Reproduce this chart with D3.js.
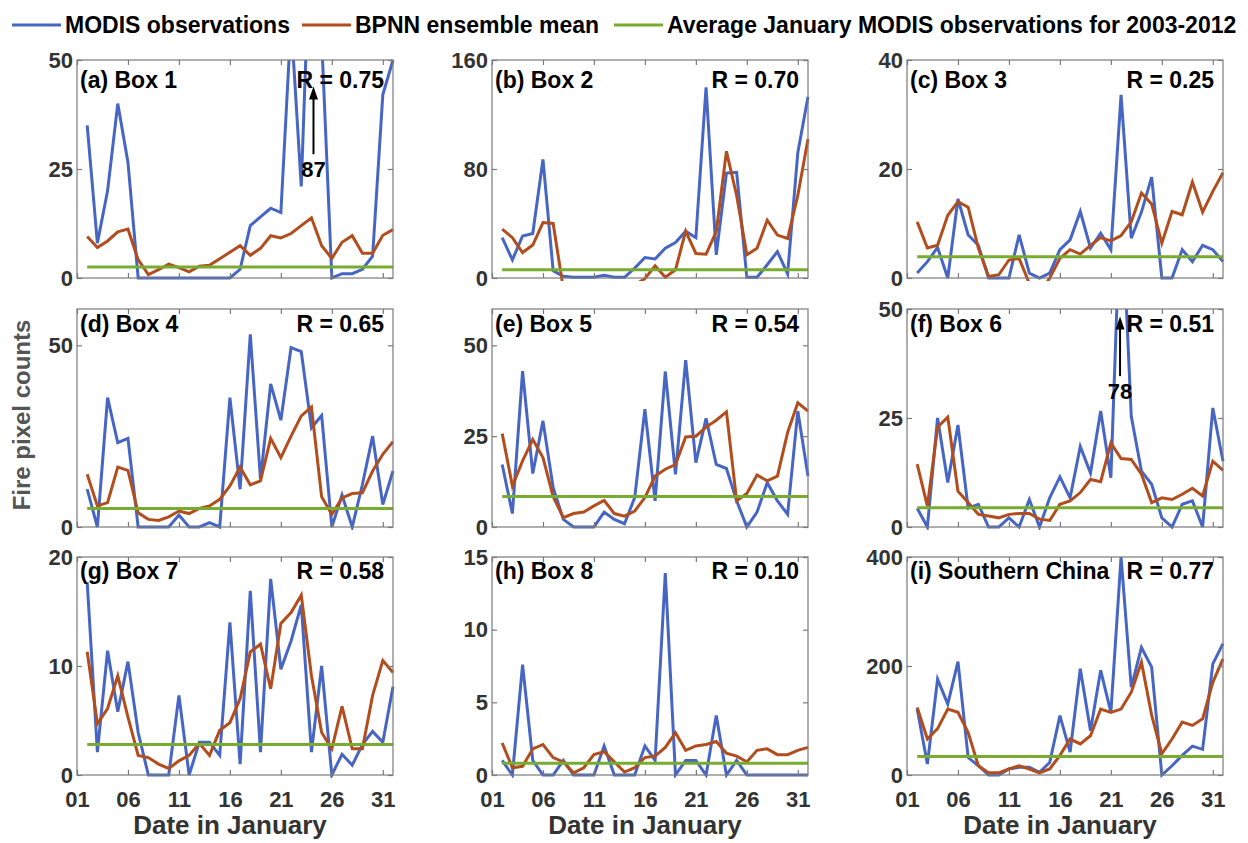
<!DOCTYPE html>
<html>
<head>
<meta charset="utf-8">
<script src="https://cdn.jsdelivr.net/npm/d3@7"></script>
<style>
  body { margin: 0; background: #fff; }
  svg { display: block; font-family: "Liberation Sans", Arial, sans-serif; }
</style>
</head>
<body>
<div id="chart"></div>
<script>
// days plotted (x positions)
const days = [2,3,4,5,6,7,8,9,10,11,12,13,14,15,16,17,18,19,20,21,22,23,24,25,26,27,28,29,30,31,32];
const xTicks = [1, 6, 11, 16, 21, 26, 31];

const titles = ["(a) Box 1", "(b) Box 2", "(c) Box 3", "(d) Box 4", "(e) Box 5", "(f) Box 6", "(g) Box 7", "(h) Box 8", "(i) Southern China"];
const rValues = ["0.75", "0.70", "0.25", "0.65", "0.54", "0.51", "0.58", "0.10", "0.77"];
const yMax = [50, 160, 40, 60, 60, 50, 20, 15, 400];
const yTicks = [[0,25,50], [0,80,160], [0,20,40], [0,50], [0,25,50], [0,25,50], [0,10,20], [0,5,10,15], [0,200,400]];

// MODIS observations
const modis1 = [35,8,20,40,26.5,0,0,0,0,0,0,0,0,0,0,2,12,14,16,15,59,21,87,55,0,1,1,2,5,42,50];
const modis2 = [29.6,13.3,30.8,32.7,87,5.3,1.2,0.5,0.5,0.5,2,0.5,0.5,7.3,15,14,21.8,26,34.4,29.6,140,17,77,77.6,0.5,0.5,9.7,19.4,3,92,133];
const modis3 = [0.9,3,5.6,0,14.5,7.9,6,0,0,0,7.9,0.9,0,0.9,5.2,7,12.2,5.5,8.2,5.2,33.6,7.3,12.1,18.5,0,0,5.2,3,6,5.2,3];
const modis4 = [10.4,0,35.6,23.2,24.4,0,0,0,0,3.3,0,0,1.2,0,35.6,10.4,53,13.1,39.4,29.4,49.4,48.3,27.3,30.7,0,8.8,0,11.7,25,6.2,15.4];
const modis5 = [17.2,3.7,42.9,14.7,29.2,10.8,2.1,0,0,0,4.1,2.1,0.9,8.1,32.4,7.2,42.8,14.5,45.9,17.7,29.9,17.2,16.1,7.2,0,4.1,12.2,7.2,3.5,31.9,14];
const modis6 = [4.3,0,25,10.2,23.4,4.3,5.2,0,0,2.1,0,6.3,0,6.7,11.5,6.7,18.5,12.4,26.6,11.3,78,25.4,12.8,9.8,2.1,0,5.2,6,0,27.3,15.1];
const modis7 = [17.7,2.1,11.4,5.8,10.4,3.9,0,0,0,7.3,0,3,3,1.8,14,1,16.9,2.1,18,9.7,12.3,15.6,2.1,10,0,1.9,0.9,2.8,4,3,8.1];
const modis8 = [1,0,7.6,1,0,0,1,0,0,0,2,0,0,0,2,1,13.9,0,1,1,0,4.1,0,1,0,0,0,0,0,0,0];
const modis9 = [121,20,176,130,208,32,17,0,0,11,14,14,5,23,109,42,195,81,192,115,400,161,234,198,0,17,36,53,47,204,241];

// BPNN ensemble mean
const bpnn1 = [9.5,7,8.5,10.6,11.2,4.2,0.8,1.9,3.2,2.4,1.4,2.7,2.9,4.4,5.9,7.4,5.2,6.8,9.7,9.2,10.2,12,13.8,7.4,4.5,8.2,9.7,5.7,5.7,9.8,11.1];
const bpnn2 = [35.9,29.6,18.7,24.2,40.7,40,-8,-10,-10,-10,-10,-10,-10,-5,-0.5,9,0.5,6,34.4,18,17.5,34,93,60.6,17,21.8,42.4,31.5,29,60.6,102];
const bpnn3 = [10.3,5.5,6,11.5,14,13,5.5,0.3,0.6,3.3,3.6,-1,-3,0,3.6,5.2,4.4,6,7.4,6.8,7.8,10.3,15.6,13.6,6.4,12.2,11.6,17.6,12.1,15.9,19.3];
const bpnn4 = [14.5,5.8,6.7,16.5,15.6,3.9,2.1,1.8,2.8,4.4,3.7,5.1,5.8,7.6,11.3,16.5,11.6,12.7,24.4,19.1,25,30.6,33,8.3,3.5,8,9.2,9.4,15.4,20,23.5];
const bpnn5 = [25.7,11.3,18.2,24.1,19.1,8.3,2.6,3.7,4.1,5.8,7.3,3.7,3,4.4,8.1,14,15.9,17.2,24.8,25,27.5,29.4,31.7,7.2,9.2,14.3,12.7,14,26,34.2,31.9];
const bpnn6 = [14.4,4.8,22.9,25.2,8.2,5.6,2.9,2.5,2.1,2.9,3.1,3.1,1.8,1.5,5.2,6,7.9,10.9,10.4,19.3,15.7,15.5,12.1,5.6,6.7,6.3,7.5,8.9,7.1,15.1,13];
const bpnn7 = [11.3,4.7,6.1,9.1,5.3,1.8,1.6,1,0.6,1.3,1.8,2.9,1.8,4.1,4.8,7,11.3,12,7.9,13.9,14.9,16.5,9.1,3.9,2.4,6.3,2.4,2.4,7.3,10.5,9.4];
const bpnn8 = [2.2,0.5,0.6,1.8,2.1,1.2,0.9,0.15,0.5,1.4,1.6,0.9,0.2,0.5,1.2,1.3,1.9,2.9,1.7,2,2.1,2.3,1.5,1.3,0.9,1.7,1.8,1.4,1.4,1.7,1.9];
const bpnn9 = [124,66,85,121,115,78,17,4,4,11,17,11,4,11,36,66,57,72,121,115,121,152,207,110,39,66,97,91,103,170,213];

// average January MODIS 2003-2012
const avgJan = [2.5, 6, 3.9, 5.1, 8.4, 4.4, 2.8, 0.8, 34];

// off-scale peaks marked with arrows: panel, day, arrow from/to (data units), label
const peakPanels = [0, 5];
const peakDays = [24.2, 21.9];
const peakFrom = [28.4, 34.6];
const peakTo = [43.9, 48.3];
const peakLabels = ["87", "78"];

const modis = [modis1, modis2, modis3, modis4, modis5, modis6, modis7, modis8, modis9];
const bpnn = [bpnn1, bpnn2, bpnn3, bpnn4, bpnn5, bpnn6, bpnn7, bpnn8, bpnn9];

const colBlue = "#4766c4", colBrown = "#b24e1e", colGreen = "#77ac30";
const axisGray = "#7a7a7a", labelGray = "#333";

const width = 1248, height = 843;
const colX = [77, 492, 907];
const rowY = [60, 309, 557];
const W = 316, H = 218;
const titleOffset = [28, 23, 22];

const svg = d3.select("#chart").append("svg")
    .attr("width", width)
    .attr("height", height);

// legend
const legendLabels = ["MODIS observations", "BPNN ensemble mean", "Average January MODIS observations for 2003-2012"];
const legendColors = [colBlue, colBrown, colGreen];
const legendStart = [12, 302, 614];
legendLabels.forEach(function(label, k) {
    const lx = legendStart[k];
    svg.append("line")
        .attr("x1", lx).attr("x2", lx + 49)
        .attr("y1", 25).attr("y2", 25)
        .attr("stroke", legendColors[k]).attr("stroke-width", 3);
    svg.append("text")
        .attr("x", lx + 53).attr("y", 33)
        .attr("font-size", 23).attr("font-weight", "bold")
        .attr("fill", "#000")
        .text(label);
});

// y label
svg.append("text")
    .attr("transform", "translate(30,415) rotate(-90)")
    .attr("text-anchor", "middle")
    .attr("font-size", 24).attr("font-weight", "bold")
    .attr("fill", "#555")
    .text("Fire pixel counts");

function styleAxis(g, showText) {
    g.select(".domain").remove();
    g.selectAll(".tick line").attr("stroke", axisGray).attr("stroke-width", 1.2);
    g.selectAll(".tick text")
        .attr("font-family", "Liberation Sans, Arial, sans-serif")
        .attr("font-size", 22).attr("font-weight", "bold")
        .attr("fill", labelGray);
    if (!showText) g.selectAll(".tick text").remove();
}

for (let i = 0; i < 9; i++) {
    const col = i % 3, row = Math.floor(i / 3);
    const g = svg.append("g").attr("transform", "translate(" + colX[col] + "," + rowY[row] + ")");

    const x = d3.scaleLinear().domain([1, 32]).range([0, W]);
    const y = d3.scaleLinear().domain([0, yMax[i]]).range([H, 0]);

    const clipId = "clip" + i;
    g.append("clipPath").attr("id", clipId)
      .append("rect")
        .attr("x", -2).attr("y", 0)
        .attr("width", W + 4).attr("height", H + 3);

    const line = d3.line()
        .x(function(d, k) { return x(days[k]); })
        .y(function(d) { return y(d); });

    const plot = g.append("g").attr("clip-path", "url(#" + clipId + ")");
    plot.append("path")
        .attr("d", line(modis[i]))
        .attr("fill", "none").attr("stroke", colBlue)
        .attr("stroke-width", 3).attr("stroke-linejoin", "miter");
    plot.append("path")
        .attr("d", line(bpnn[i]))
        .attr("fill", "none").attr("stroke", colBrown)
        .attr("stroke-width", 3).attr("stroke-linejoin", "miter");
    plot.append("line")
        .attr("x1", x(days[0])).attr("x2", x(32))
        .attr("y1", y(avgJan[i])).attr("y2", y(avgJan[i]))
        .attr("stroke", colGreen).attr("stroke-width", 3);

    // axes, ticks pointing inward
    const showX = row === 2;
    const bottom = g.append("g").attr("transform", "translate(0," + H + ")")
        .call(d3.axisBottom(x).tickValues(xTicks).tickSize(-5).tickPadding(16)
            .tickFormat(d3.format("02d")));
    styleAxis(bottom, showX);
    const topAx = g.append("g").call(d3.axisTop(x).tickValues(xTicks).tickSize(-5));
    styleAxis(topAx, false);
    const left = g.append("g")
        .call(d3.axisLeft(y).tickValues(yTicks[i]).tickSize(-5).tickPadding(4));
    styleAxis(left, true);
    const right = g.append("g").attr("transform", "translate(" + W + ",0)")
        .call(d3.axisRight(y).tickValues(yTicks[i]).tickSize(-5));
    styleAxis(right, false);

    g.append("rect")
        .attr("width", W).attr("height", H)
        .attr("fill", "none").attr("stroke", axisGray).attr("stroke-width", 1.2);

    // panel title and R
    g.append("text")
        .attr("x", 3).attr("y", titleOffset[row])
        .attr("font-size", 23).attr("font-weight", "bold").attr("fill", "#000")
        .text(titles[i]);
    g.append("text")
        .attr("x", W - 9).attr("y", titleOffset[row])
        .attr("text-anchor", "end")
        .attr("font-size", 23).attr("font-weight", "bold").attr("fill", "#000")
        .text("R = " + rValues[i]);

    if (showX) {
        g.append("text")
            .attr("x", W / 2 - 5).attr("y", H + 59)
            .attr("text-anchor", "middle")
            .attr("font-size", 26).attr("font-weight", "bold")
            .attr("fill", labelGray)
            .text("Date in January");
    }

    // arrows for peaks above the axis
    const p = peakPanels.indexOf(i);
    if (p >= 0) {
        const ax = x(peakDays[p]), y0 = y(peakFrom[p]), y1 = y(peakTo[p]);
        g.append("line")
            .attr("x1", ax).attr("x2", ax)
            .attr("y1", y0).attr("y2", y1 + 10)
            .attr("stroke", "#000").attr("stroke-width", 2);
        g.append("path")
            .attr("d", "M" + ax + "," + y1 + "L" + (ax - 4.5) + "," + (y1 + 13) + "L" + (ax + 4.5) + "," + (y1 + 13) + "Z")
            .attr("fill", "#000");
        g.append("text")
            .attr("x", ax).attr("y", y0 + 23)
            .attr("text-anchor", "middle")
            .attr("font-size", 22).attr("font-weight", "bold").attr("fill", "#000")
            .text(peakLabels[p]);
    }
}
</script>
</body>
</html>
